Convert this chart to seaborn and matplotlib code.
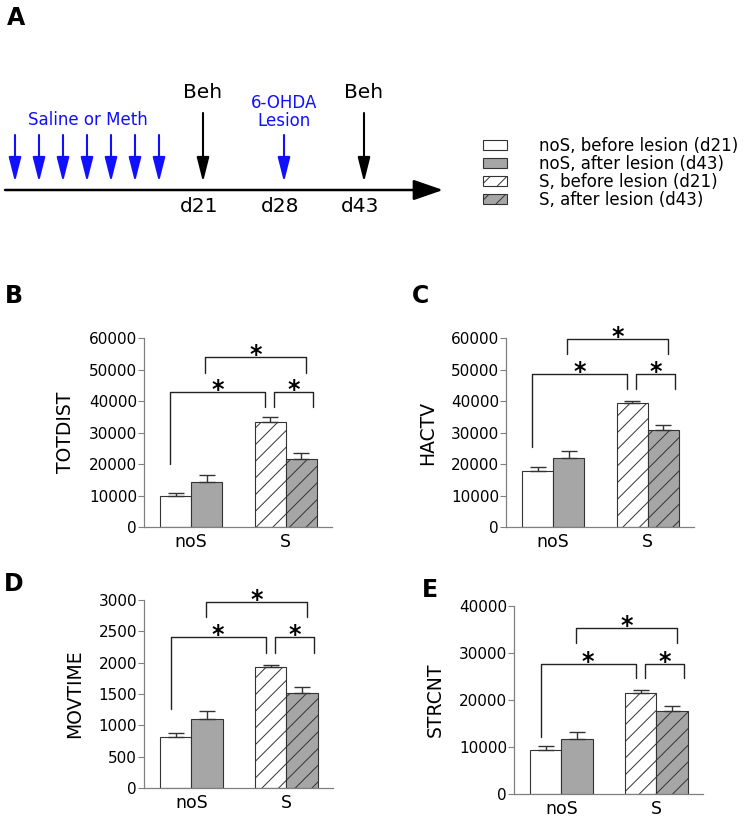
import pandas as pd
import seaborn as sns
import matplotlib.pyplot as plt
from matplotlib.patches import Patch

# ---- data ----
GROUPS = ["noS", "S"]
PHASES = ["before lesion (d21)", "after lesion (d43)"]

totdist_before = [9800, 33400]
totdist_after = [14300, 21600]
totdist_err_before = [1000, 1500]
totdist_err_after = [2200, 1900]

hactv_before = [17800, 39400]
hactv_after = [21900, 30800]
hactv_err_before = [1200, 600]
hactv_err_after = [2200, 1600]

movtime_before = [810, 1930]
movtime_after = [1100, 1510]
movtime_err_before = [65, 40]
movtime_err_after = [130, 100]

strcnt_before = [9400, 21500]
strcnt_after = [11700, 17700]
strcnt_err_before = [800, 700]
strcnt_err_after = [1500, 1000]

# significance brackets: (x left, x right, top, left leg end, right leg end)
totdist_sig = [(-0.22, 0.78, 42800, 20000, 38000),
               (0.15, 1.22, 54000, 49000, 49000),
               (0.88, 1.29, 42800, 38000, 38000)]
hactv_sig = [(-0.22, 0.78, 48600, 25400, 43800),
             (0.15, 1.22, 59700, 55000, 55000),
             (0.88, 1.29, 48600, 43800, 43800)]
movtime_sig = [(-0.22, 0.78, 2410, 1260, 2150),
               (0.15, 1.22, 2970, 2730, 2730),
               (0.88, 1.29, 2410, 2150, 2150)]
strcnt_sig = [(-0.22, 0.78, 27660, 12100, 24700),
              (0.15, 1.22, 35300, 32100, 32100),
              (0.88, 1.29, 27660, 24700, 24700)]

# timeline of panel A
injections = 7
timeline_days = ["d21", "d28", "d43"]
timeline_events = ["Beh", "6-OHDA\nLesion", "Beh"]

GRAY = "#a6a6a6"
BLUE = "#1010ff"
EDGE = "#333333"

sns.set_theme(style="ticks")
plt.rcParams["font.family"] = ["DejaVu Sans"]
plt.rcParams["hatch.linewidth"] = 0.7
for key in ["text.color", "axes.labelcolor", "xtick.labelcolor", "ytick.labelcolor"]:
    plt.rcParams[key] = "black"

fig = plt.figure(figsize=(7.5, 8.18), dpi=100)

# ---- panel A (drawn in pixel coordinates) ----
ax0 = fig.add_axes([0, 0, 1, 1])
ax0.set_xlim(0, 750)
ax0.set_ylim(818, 0)
ax0.axis("off")

ax0.text(7, 6, "A", fontsize=17, fontweight="bold", va="top", ha="left")
ax0.annotate("", xy=(443, 190), xytext=(5, 190),
             arrowprops=dict(arrowstyle="-|>,head_length=1.3,head_width=0.45",
                             lw=1.8, color="black", mutation_scale=14,
                             shrinkA=0, shrinkB=0))

arrow_style = "-|>,head_length=1.5,head_width=0.38"
for i in range(injections):
    x = 15 + 24 * i
    ax0.annotate("", xy=(x, 182), xytext=(x, 135),
                 arrowprops=dict(arrowstyle=arrow_style, lw=1.5, color=BLUE,
                                 mutation_scale=10, shrinkA=0, shrinkB=0))
ax0.text(88, 120, "Saline or Meth", color=BLUE, fontsize=12, ha="center", va="center")

event_x = [203, 284, 364]
for x, ev, day in zip(event_x, timeline_events, timeline_days):
    if ev == "Beh":
        ax0.annotate("", xy=(x, 182), xytext=(x, 113),
                     arrowprops=dict(arrowstyle=arrow_style, lw=1.5, color="black",
                                     mutation_scale=10, shrinkA=0, shrinkB=0))
        ax0.text(x, 93, ev, fontsize=14.5, ha="center", va="center")
    else:
        ax0.annotate("", xy=(x, 182), xytext=(x, 135),
                     arrowprops=dict(arrowstyle=arrow_style, lw=1.5, color=BLUE,
                                     mutation_scale=10, shrinkA=0, shrinkB=0))
        ax0.text(x, 111.5, ev, color=BLUE, fontsize=12, ha="center", va="center",
                 linespacing=1.0)
    ax0.text(x - 4, 207, day, fontsize=14.5, ha="center", va="center")

# legend
handles = [Patch(facecolor="white", edgecolor=EDGE, lw=0.8),
           Patch(facecolor=GRAY, edgecolor=EDGE, lw=0.8),
           Patch(facecolor="white", edgecolor=EDGE, lw=0.8, hatch="//"),
           Patch(facecolor=GRAY, edgecolor=EDGE, lw=0.8, hatch="//")]
labels = [f"{g}, {p}" for g in GROUPS for p in PHASES]
fig.legend(handles, labels, loc="upper left", bbox_to_anchor=(483 / 750, 1 - 137 / 818),
           frameon=False, fontsize=12, handlelength=1.45, handleheight=0.6,
           handletextpad=1.9, labelspacing=0.0, borderpad=0, borderaxespad=0)


def bar_panel(rect, letter, letter_xy, ylabel, before, after, err_before, err_after,
              ymax, ystep, sig):
    ax = fig.add_axes(rect)
    df = pd.DataFrame({
        "group": GROUPS * 2,
        "phase": [PHASES[0]] * 2 + [PHASES[1]] * 2,
        "value": before + after,
    })
    sns.barplot(data=df, x="group", y="value", hue="phase", order=GROUPS,
                hue_order=PHASES, palette=["white", GRAY], edgecolor=EDGE,
                linewidth=0.8, width=0.66, errorbar=None, legend=False, ax=ax)
    for cont, errs in zip(ax.containers, [err_before, err_after]):
        xs, ys = [], []
        for bar, grp in zip(cont, GROUPS):
            xs.append(bar.get_x() + bar.get_width() / 2)
            ys.append(bar.get_height())
            if grp == "S":
                bar.set_hatch("//")
        ax.errorbar(xs, ys, yerr=[[0] * len(errs), errs], fmt="none", ecolor=EDGE,
                    elinewidth=1.0, capsize=6, capthick=1.0, zorder=1)

    for x1, x2, top, y1, y2 in sig:
        ax.plot([x1, x1, x2, x2], [y1, top, top, y2], color="#222222", lw=1.0,
                clip_on=False)
        ax.annotate("*", xy=((x1 + x2) / 2, top), xytext=(0, -3.8),
                    textcoords="offset points", ha="center", va="baseline",
                    fontsize=17, fontweight="bold", annotation_clip=False)

    ax.set_xlim(-0.5, 1.49)
    ax.set_ylim(0, ymax)
    ax.set_yticks(range(0, ymax + 1, ystep))
    ax.set_xlabel("")
    ax.set_ylabel(ylabel, fontsize=13.5, labelpad=10)
    ax.tick_params(axis="y", direction="out", length=4, width=0.8, color="#808080",
                   labelsize=11, pad=1)
    ax.tick_params(axis="x", length=0, labelsize=12.5, pad=4)
    sns.despine(ax=ax)
    for side in ["left", "bottom"]:
        ax.spines[side].set_color("#808080")
        ax.spines[side].set_linewidth(0.9)
    fig.text(letter_xy[0] / 750, 1 - letter_xy[1] / 818, letter, fontsize=17,
             fontweight="bold", ha="left", va="top")
    return ax


bar_panel([144 / 750, 1 - 527 / 818, 188 / 750, 189 / 818], "B", (5, 284), "TOTDIST",
          totdist_before, totdist_after, totdist_err_before, totdist_err_after,
          60000, 10000, totdist_sig)
bar_panel([506 / 750, 1 - 527 / 818, 188 / 750, 189 / 818], "C", (412, 284), "HACTV",
          hactv_before, hactv_after, hactv_err_before, hactv_err_after,
          60000, 10000, hactv_sig)
bar_panel([144 / 750, 1 - 788 / 818, 189 / 750, 188 / 818], "D", (4, 572), "MOVTIME",
          movtime_before, movtime_after, movtime_err_before, movtime_err_after,
          3000, 500, movtime_sig)
bar_panel([514 / 750, 1 - 794 / 818, 189 / 750, 188 / 818], "E", (422, 578), "STRCNT",
          strcnt_before, strcnt_after, strcnt_err_before, strcnt_err_after,
          40000, 10000, strcnt_sig)

fig.savefig("out.png", dpi=100, facecolor="white")
